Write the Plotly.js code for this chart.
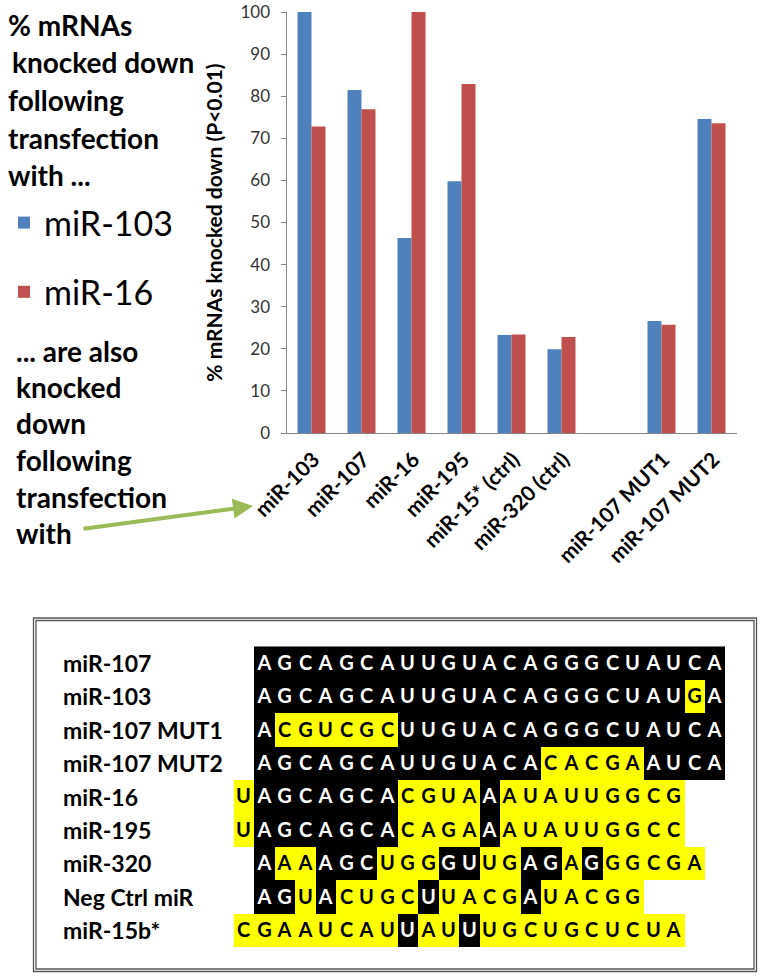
<!DOCTYPE html>
<html>
<head>
<meta charset="utf-8">
<script src="https://cdn.plot.ly/plotly-3.0.1.min.js"></script>
<style>html,body{margin:0;padding:0;background:#fff;}#chart{width:764px;height:978px;}</style>
</head>
<body>
<div id="chart"></div>
<script>
// ---------- Bar chart data ----------
const categories = ['miR-103','miR-107','miR-16','miR-195','miR-15* (ctrl)','miR-320 (ctrl)',' ','miR-107 MUT1','miR-107 MUT2'];
const mir103Values = [100, 81.5, 46.3, 59.8, 23.3, 19.9, null, 26.6, 74.6];
const mir16Values  = [72.8, 76.9, 100, 82.9, 23.4, 22.8, null, 25.7, 73.6];
const yTickVals = [0,10,20,30,40,50,60,70,80,90,100];
const seriesNames = ['miR-103','miR-16'];

// ---------- Sequence alignment data ----------
const seqNames = ['miR-107','miR-103','miR-107 MUT1','miR-107 MUT2','miR-16','miR-195','miR-320','Neg Ctrl miR','miR-15b*'];
const seqStrings = [
  'AGCAGCAUUGUACAGGGCUAUCA',
  'AGCAGCAUUGUACAGGGCUAUGA',
  'ACGUCGCUUGUACAGGGCUAUCA',
  'AGCAGCAUUGUACACACGAAUCA',
  'UAGCAGCACGUAAAUAUUGGCG',
  'UAGCAGCACAGAAAUAUUGGCC',
  'AAAAGCUGGGUUGAGAGGGCGA',
  'AGUACUGCUUACGAUACGG',
  'CGAAUCAUUAUUUGCUGCUCUA'
];
// alignment offset (column of first letter)
const seqStart = [0,0,0,0,-1,-1,0,0,-1];
// B = black (matches miR-107), Y = yellow (differs)
const seqMask = [
  'BBBBBBBBBBBBBBBBBBBBBBB',
  'BBBBBBBBBBBBBBBBBBBBBYB',
  'BYYYYYYBBBBBBBBBBBBBBBB',
  'BBBBBBBBBBBBBBYYYYYBBBB',
  'YBBBBBBBYYYYBYYYYYYYYY',
  'YBBBBBBBYYYYBYYYYYYYYY',
  'BYYBBBYYYBBYYBBYBYYYYY',
  'BBYBYYYYBYYYYBYYYYY',
  'YYYYYYYYBYYBYYYYYYYYYY'
];
const colMin = -1, colMax = 22;

// ---------- Text blocks ----------
const upperText = ['% mRNAs','knocked down','following','transfection','with ...'];
const lowerText = ['... are also','knocked','down','following','transfection','with'];

const W = 764, H = 978;
const px = x => x / W;
const py = y => 1 - y / H;
const FONT = 'Lato, "Open Sans", sans-serif';

// build heatmap matrices
const cols = [];
for (let c = colMin; c <= colMax; c++) cols.push(c);
const rows = seqNames.map((_, i) => i);
function buildLayer(kind) {
  const z = [], t = [];
  seqStrings.forEach((s, r) => {
    const zr = cols.map(() => null), tr = cols.map(() => '');
    for (let k = 0; k < s.length; k++) {
      const ci = seqStart[r] + k - colMin;
      if (seqMask[r][k] === kind) { zr[ci] = 1; tr[ci] = s[k]; }
    }
    z.push(zr); t.push(tr);
  });
  return {z, t};
}
const darkL = buildLayer('B');
const hlL = buildLayer('Y');

const traces = [
  {type:'bar', name: seriesNames[0], x: categories, y: mir103Values, marker:{color:'#4F81BD'}, legendgroup:'a', xaxis:'x', yaxis:'y'},
  {type:'bar', name: seriesNames[1], x: categories, y: mir16Values, marker:{color:'#C0504D'}, legendgroup:'b', xaxis:'x', yaxis:'y'},
  {type:'heatmap', x: cols, y: rows, z: darkL.z, text: darkL.t, texttemplate:'%{text}',
   textfont:{family:FONT, size:20, color:'#ffffff', weight:700},
   colorscale:[[0,'#000000'],[1,'#000000']], zmin:0, zmax:1, showscale:false, hoverinfo:'skip',
   xaxis:'x2', yaxis:'y2', showlegend:false},
  {type:'heatmap', x: cols, y: rows, z: hlL.z, text: hlL.t, texttemplate:'%{text}',
   textfont:{family:FONT, size:20, color:'#000000', weight:700},
   colorscale:[[0,'#FFFF00'],[1,'#FFFF00']], zmin:0, zmax:1, showscale:false, hoverinfo:'skip',
   xaxis:'x2', yaxis:'y2', showlegend:false}
];

const annotations = [];
upperText.forEach((s, i) => {
  const ys = [25, 62, 100, 138, 175];
  annotations.push({xref:'paper', yref:'paper', x: px(i === 1 ? 10 : 6), y: py(ys[i]), xanchor:'left', yanchor:'middle',
    text: s, showarrow:false, font:{family:FONT, size:28, color:'#000', weight:700}});
});
lowerText.forEach((s, i) => {
  const ys = [351, 387, 423, 460, 497, 533];
  annotations.push({xref:'paper', yref:'paper', x: px(14), y: py(ys[i]), xanchor:'left', yanchor:'middle',
    text: s, showarrow:false, font:{family:FONT, size:28, color:'#000', weight:700}});
});
seqNames.forEach((s, i) => {
  annotations.push({xref:'paper', yref:'y2', x: px(61), y: rows[i], xanchor:'left', yanchor:'middle',
    text: s, showarrow:false, font:{family:FONT, size:23, color:'#000', weight:700}});
});
// green arrow
annotations.push({xref:'paper', yref:'paper', x: px(253), y: py(506), ax:-171, ay:23, text:'', showarrow:true,
  arrowhead:2, arrowsize:1, arrowwidth:4, arrowcolor:'#9BBB59'});

const layout = {
  width: W, height: H,
  margin:{l:0, r:0, t:0, b:0},
  paper_bgcolor:'#ffffff', plot_bgcolor:'#ffffff',
  barmode:'group', bargap:0.44, bargroupgap:0,
  font:{family:FONT, color:'#000'},
  showlegend:true,
  legend:{x: px(4), y: py(194), xanchor:'left', yanchor:'top', traceorder:'grouped', tracegroupgap:22,
    font:{family:FONT, size:34, color:'#000'}, bgcolor:'rgba(0,0,0,0)'},
  xaxis:{domain:[px(286.5), px(736.5)], type:'category', categoryorder:'array', categoryarray: categories,
    showline:true, linecolor:'#868686', linewidth:1, ticks:'', tickangle:-45, ticklabelshift:2, ticklabelstandoff:5,
    tickfont:{family:FONT, size:21, color:'#000', weight:700}, showgrid:false, zeroline:false, fixedrange:true},
  yaxis:{domain:[py(433), py(12)], range:[0,100], tickvals: yTickVals, showline:true, linecolor:'#868686', linewidth:1,
    ticks:'outside', ticklen:5, tickcolor:'#868686', ticklabelstandoff:7,
    tickfont:{family:FONT, size:17, color:'#333'}, showgrid:false, zeroline:false,
    title:{text:'% mRNAs knocked down (P<0.01)', font:{family:FONT, size:21, color:'#000', weight:700}, standoff:12}},
  xaxis2:{domain:[px(233.5), px(725)], range:[colMin-0.5, colMax+0.5], visible:false, anchor:'y2', fixedrange:true},
  yaxis2:{domain:[py(947), py(646.3)], range:[seqNames.length-0.5, -0.5], visible:false, anchor:'x2', fixedrange:true},
  shapes:[
    {type:'rect', xref:'paper', yref:'paper', x0:px(33.5), x1:px(756.5), y0:py(618), y1:py(971.5), line:{color:'#555', width:1.3}},
    {type:'rect', xref:'paper', yref:'paper', x0:px(36), x1:px(754), y0:py(620.5), y1:py(969), line:{color:'#555', width:1.3}}
  ],
  annotations: annotations
};

Plotly.newPlot('chart', traces, layout, {displayModeBar:false, staticPlot:true});
</script>
</body>
</html>
